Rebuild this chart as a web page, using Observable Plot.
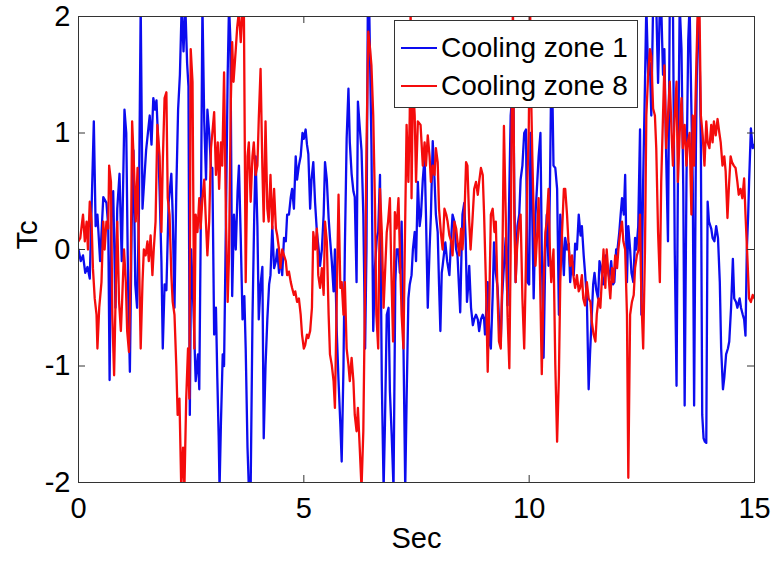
<!DOCTYPE html>
<html><head><meta charset="utf-8">
<script src="https://cdn.jsdelivr.net/npm/d3@7"></script>
<script src="https://cdn.jsdelivr.net/npm/@observablehq/plot@0.6"></script>
<style>
body{margin:0;background:#fff;}
#wrap{position:relative;width:772px;height:561px;}
#legend{position:absolute;left:394px;top:20px;width:242px;height:86px;border:1px solid #333;background:#fff;font-family:'Liberation Sans',Arial,sans-serif;font-size:28px;}
.row{position:absolute;left:0;height:34px;display:flex;align-items:center;}
.sw{width:36px;height:2px;margin-left:6px;margin-right:4px;}
</style></head><body>
<div id="wrap"></div>
<script>
const xTicks = [0, 5, 10, 15];
const yTicks = [-2, -1, 0, 1, 2];
const seriesNames = ["Cooling zone 1", "Cooling zone 8"];
const seriesColors = ["#0c0cef", "#f40c0c"];
const xLabel = "Sec";
const yLabel = "Tc";

const zone1 = [[0,0],[0.05,-0.1],[0.1,-0.05],[0.15,-0.2],[0.2,-0.15],[0.25,-0.25],[0.3,0.5],[0.34,1.1],[0.38,0.2],[0.42,0.3],[0.48,-0.1],[0.55,0.45],[0.62,0.4],[0.66,0.2],[0.69,-1.12],[0.73,0.3],[0.77,0.5],[0.82,-0.5],[0.86,0.35],[0.91,0.65],[0.96,-0.1],[1.02,1.2],[1.06,1.0],[1.1,-0.3],[1.14,-1.05],[1.18,0.2],[1.22,0.85],[1.26,-0.3],[1.3,-0.5],[1.34,0.3],[1.38,2.1],[1.42,0.35],[1.46,0.6],[1.5,0.85],[1.54,1.0],[1.58,1.15],[1.62,0.9],[1.66,1.3],[1.7,1.2],[1.73,1.28],[1.76,1.0],[1.8,0.5],[1.84,-0.1],[1.87,-0.85],[1.91,-0.3],[1.95,-0.35],[2.0,0.4],[2.06,0.65],[2.09,0.3],[2.13,-0.5],[2.17,0.5],[2.21,1.2],[2.25,1.5],[2.29,2.1],[2.33,1.7],[2.37,2.1],[2.41,1.6],[2.44,1.4],[2.47,-1.42],[2.5,0],[2.55,-0.5],[2.6,-1.13],[2.65,-0.9],[2.68,-1.2],[2.72,0.5],[2.75,2.1],[2.79,1.1],[2.83,0.6],[2.86,1.2],[2.9,1.0],[2.94,0.7],[2.97,0.7],[3.01,-0.73],[3.05,-0.5],[3.08,-1.1],[3.11,-1.6],[3.13,-2.05],[3.16,-1.5],[3.2,-0.9],[3.23,-1.0],[3.27,0.2],[3.31,1.5],[3.34,2.1],[3.37,1.8],[3.41,-0.4],[3.45,0.3],[3.49,0],[3.53,0.5],[3.56,0.72],[3.6,0.1],[3.64,-0.6],[3.68,-0.4],[3.71,-0.85],[3.75,-1.7],[3.78,-2.05],[3.82,-2.05],[3.86,-0.6],[3.9,0.3],[3.93,0.8],[3.97,0.2],[4.0,-0.6],[4.04,-0.3],[4.08,-0.15],[4.11,-1.62],[4.15,-1.0],[4.19,-0.6],[4.23,-0.3],[4.26,-0.22],[4.3,0.2],[4.34,-0.16],[4.38,-0.1],[4.41,0],[4.45,-0.2],[4.49,-0.05],[4.52,-0.22],[4.56,0.1],[4.6,0.07],[4.63,0.3],[4.67,0.3],[4.71,0.45],[4.74,0.52],[4.78,0.35],[4.82,0.8],[4.85,0.6],[4.89,0.72],[4.93,0.8],[4.97,1.0],[5.0,0.95],[5.04,1.03],[5.07,0.9],[5.1,0.82],[5.14,0.35],[5.17,0.6],[5.21,0.75],[5.25,0.4],[5.29,0.15],[5.33,0],[5.36,-0.14],[5.4,0],[5.44,0.3],[5.47,0.75],[5.51,0.6],[5.55,0.27],[5.58,0.1],[5.62,-0.1],[5.66,-0.36],[5.69,0],[5.73,-0.7],[5.77,-1.13],[5.81,-1.5],[5.84,-1.82],[5.88,-1.0],[5.91,0],[5.95,0.95],[5.99,1.38],[6.02,0.92],[6.06,0.65],[6.1,0.5],[6.13,0.45],[6.17,-0.28],[6.2,1.27],[6.24,1.05],[6.28,0.85],[6.32,0.3],[6.36,-0.85],[6.39,0],[6.42,2.1],[6.45,2.1],[6.5,0.9],[6.54,-0.7],[6.58,-0.14],[6.62,0.1],[6.65,0.15],[6.69,0.64],[6.73,-1.13],[6.77,-2.05],[6.8,-1.5],[6.84,-0.56],[6.88,-0.5],[6.91,-1.22],[6.95,-1.6],[6.99,-2.05],[7.03,-0.28],[7.06,0],[7.1,0],[7.13,-0.2],[7.17,0.24],[7.21,-0.8],[7.25,-2.05],[7.28,-1.3],[7.32,-0.42],[7.35,-0.3],[7.39,-0.22],[7.42,0],[7.46,0.15],[7.49,-0.1],[7.53,0.58],[7.57,0.2],[7.6,0.3],[7.64,0.6],[7.68,0.8],[7.71,0.3],[7.75,-0.5],[7.79,0],[7.82,0.3],[7.86,0.93],[7.9,0.6],[7.93,0.3],[7.97,0.15],[8.0,-0.3],[8.03,-0.7],[8.06,-0.2],[8.08,-0.14],[8.12,0],[8.14,0.06],[8.18,-0.1],[8.23,-0.22],[8.27,0.1],[8.3,0.3],[8.34,0.24],[8.38,0],[8.41,-0.05],[8.44,-0.3],[8.47,-0.54],[8.5,0],[8.52,0.3],[8.56,0.4],[8.59,0.1],[8.62,-0.45],[8.65,-0.3],[8.67,-0.14],[8.71,-0.5],[8.75,-0.65],[8.78,-0.6],[8.82,-0.56],[8.86,-0.6],[8.89,-0.7],[8.93,-0.6],[8.97,-0.56],[9.0,-0.6],[9.02,-0.73],[9.05,-0.5],[9.08,-0.28],[9.12,-0.8],[9.15,-0.85],[9.19,-0.4],[9.22,0.06],[9.26,-0.2],[9.3,-0.33],[9.33,-0.6],[9.37,-0.79],[9.4,-0.4],[9.44,-0.14],[9.48,0.1],[9.52,-0.48],[9.55,0.3],[9.59,1.15],[9.62,1.3],[9.64,1.8],[9.67,0.5],[9.7,-0.28],[9.74,0.2],[9.78,0.3],[9.81,0.6],[9.85,0.72],[9.89,1.0],[9.93,1.03],[9.96,-0.28],[10.0,-0.3],[10.03,1.0],[10.06,0.5],[10.1,-0.42],[10.14,0.3],[10.18,0.58],[10.21,0.8],[10.25,1.0],[10.28,0],[10.32,-0.93],[10.36,0],[10.39,0.3],[10.43,-0.14],[10.46,0.5],[10.49,1.5],[10.52,1.22],[10.54,0.72],[10.58,0.7],[10.62,0.52],[10.66,-0.56],[10.69,0.3],[10.73,0.1],[10.77,-0.22],[10.8,0.1],[10.84,0],[10.88,0.05],[10.91,-0.28],[10.95,-0.1],[10.99,-0.22],[11.02,0.05],[11.06,0],[11.1,0.3],[11.14,0.12],[11.17,0.2],[11.21,-0.05],[11.24,-0.2],[11.28,-0.42],[11.32,-1.2],[11.35,-0.9],[11.39,-0.56],[11.42,-0.3],[11.45,-0.2],[11.49,-0.35],[11.53,-0.42],[11.56,-0.1],[11.6,-0.16],[11.64,-0.3],[11.67,-0.28],[11.7,-0.05],[11.74,-0.16],[11.78,-0.25],[11.82,-0.1],[11.86,-0.3],[11.89,-0.28],[11.93,0],[11.96,0],[12.0,0.15],[12.03,0.3],[12.06,0.44],[12.1,0.3],[12.13,0.64],[12.17,-0.28],[12.2,0.2],[12.24,0],[12.27,-0.2],[12.31,-0.28],[12.35,0.1],[12.38,0],[12.42,0.2],[12.46,1.03],[12.49,-0.56],[12.53,0.6],[12.57,1.43],[12.6,2.1],[12.64,1.5],[12.68,1.6],[12.71,1.15],[12.75,2.1],[12.79,2.1],[12.82,2.1],[12.86,1.43],[12.9,2.1],[12.93,2.1],[12.97,1.5],[13.0,1.72],[13.04,0.8],[13.08,0.07],[13.12,2.1],[13.16,2.1],[13.19,2.1],[13.23,0],[13.27,-1.17],[13.3,0.58],[13.34,2.1],[13.38,1.72],[13.42,0.5],[13.45,-1.34],[13.49,0.58],[13.53,1.8],[13.56,2.1],[13.6,1.2],[13.63,0.58],[13.66,-1.34],[13.7,0.87],[13.73,1.8],[13.76,2.1],[13.79,1.5],[13.81,0.87],[13.84,-1.42],[13.87,-1.62],[13.9,-1.65],[13.93,-1.66],[13.96,0.41],[13.99,0.24],[14.04,0.18],[14.07,0.1],[14.11,0.07],[14.15,0.2],[14.19,0.1],[14.23,-0.28],[14.26,-0.85],[14.3,-1.2],[14.33,-1.1],[14.37,-0.9],[14.41,-0.85],[14.44,-0.79],[14.48,-0.5],[14.52,-0.08],[14.55,-0.42],[14.59,-0.45],[14.62,-0.5],[14.67,-0.42],[14.7,-0.5],[14.74,-0.56],[14.77,-0.6],[14.8,-0.74],[14.83,0],[14.86,0.3],[14.88,0.58],[14.92,1.04],[14.96,0.87],[15.0,0.9]];

const zone8 = [[0,0.07],[0.04,0.1],[0.07,0.2],[0.1,0.3],[0.14,0.07],[0.18,0.24],[0.21,0],[0.25,0.41],[0.29,0.24],[0.32,-0.16],[0.36,-0.42],[0.4,-0.56],[0.42,-0.85],[0.46,-0.5],[0.51,-0.28],[0.55,0.24],[0.58,0],[0.62,0.24],[0.66,0.18],[0.68,0.72],[0.72,0.58],[0.75,-0.56],[0.79,-1.08],[0.83,-0.28],[0.86,0.24],[0.9,-0.45],[0.94,-0.7],[0.97,-0.42],[1.01,0],[1.05,-0.28],[1.08,-0.7],[1.12,-0.88],[1.16,-0.14],[1.19,1.1],[1.23,0.72],[1.27,0.24],[1.31,0.7],[1.34,0],[1.38,-0.85],[1.42,-0.28],[1.45,0],[1.49,-0.05],[1.53,0.07],[1.56,-0.1],[1.6,0.12],[1.64,-0.22],[1.67,0],[1.71,0.24],[1.75,1.07],[1.8,0.8],[1.84,0.15],[1.87,0.75],[1.91,1.3],[1.95,1.35],[1.98,0.44],[2.02,0.3],[2.06,-0.22],[2.09,-0.45],[2.13,-0.56],[2.17,-1.0],[2.2,-1.42],[2.24,-1.28],[2.28,-2.05],[2.32,-1.7],[2.35,-2.05],[2.39,-1.28],[2.43,-0.85],[2.46,-1.28],[2.49,1.72],[2.53,1.44],[2.57,-0.85],[2.6,0.3],[2.64,0.15],[2.68,0.44],[2.71,0.18],[2.75,0.44],[2.79,0.6],[2.82,0.3],[2.86,-0.05],[2.9,0.24],[2.94,0.87],[2.97,1.0],[3.01,1.18],[3.05,0.64],[3.09,0.92],[3.12,0.52],[3.16,0.92],[3.19,0.72],[3.23,1.52],[3.27,0.3],[3.31,-0.45],[3.34,-0.05],[3.38,1.27],[3.41,1.78],[3.44,1.44],[3.49,1.72],[3.52,1.9],[3.56,2.05],[3.6,1.78],[3.64,2.05],[3.67,2.05],[3.71,-0.28],[3.75,0.8],[3.78,0.92],[3.82,0.41],[3.86,0.8],[3.89,0.92],[3.93,0.64],[3.97,0.72],[4.0,1.12],[4.04,1.55],[4.08,0.7],[4.11,0.24],[4.15,1.1],[4.19,0.35],[4.22,0.24],[4.26,0.64],[4.3,0.18],[4.34,0.52],[4.38,0.18],[4.41,0.12],[4.45,0],[4.48,-0.16],[4.52,0],[4.56,-0.05],[4.6,-0.1],[4.63,-0.22],[4.67,-0.19],[4.71,-0.28],[4.74,-0.33],[4.78,-0.39],[4.81,-0.36],[4.85,-0.45],[4.89,-0.42],[4.93,-0.56],[4.96,-0.73],[5.0,-0.85],[5.03,-0.82],[5.07,-0.73],[5.1,-0.76],[5.14,-0.7],[5.18,-0.5],[5.21,0.15],[5.25,0],[5.29,0.18],[5.32,-0.22],[5.36,-0.33],[5.4,-0.16],[5.44,-0.39],[5.47,0.24],[5.51,0.07],[5.55,-0.56],[5.58,-0.9],[5.62,-0.99],[5.66,-1.13],[5.69,-1.36],[5.73,-0.42],[5.77,0.47],[5.81,-0.33],[5.84,-0.28],[5.88,-0.56],[5.91,-0.28],[5.95,-0.85],[5.99,-0.99],[6.02,-1.13],[6.06,-0.93],[6.1,-1.13],[6.13,-1.42],[6.17,-1.56],[6.2,-1.36],[6.24,-1.7],[6.28,-2.05],[6.32,-1.56],[6.36,-0.28],[6.39,0.87],[6.43,1.87],[6.47,1.72],[6.5,1.58],[6.54,1.15],[6.58,0.35],[6.61,-0.56],[6.65,-0.85],[6.69,0.52],[6.73,0.15],[6.77,-0.5],[6.8,-0.22],[6.84,0.15],[6.87,0.24],[6.91,0.44],[6.94,-0.16],[6.98,-0.79],[7.02,0.32],[7.06,0.18],[7.1,0.44],[7.13,0],[7.17,-0.56],[7.21,-0.85],[7.24,0],[7.28,1.07],[7.32,0.58],[7.35,1.15],[7.37,2.1],[7.39,0.44],[7.42,1.44],[7.46,1.15],[7.49,0.58],[7.53,1.1],[7.59,1.07],[7.64,0.72],[7.68,0.92],[7.71,0.72],[7.75,0.98],[7.79,0.8],[7.82,0.58],[7.86,0.72],[7.9,0.64],[7.93,0.87],[7.97,0.75],[8.0,0.35],[8.04,0.15],[8.08,0],[8.12,0.35],[8.16,0.3],[8.19,0.24],[8.23,0.12],[8.27,0.07],[8.3,-0.05],[8.34,0.24],[8.38,0.18],[8.41,0.07],[8.45,-0.05],[8.49,0.18],[8.52,0],[8.56,0.24],[8.6,0.75],[8.63,0.72],[8.67,0.24],[8.7,0],[8.74,0.24],[8.78,0.52],[8.82,0.58],[8.86,0.47],[8.89,0.58],[8.93,0.7],[8.97,0.64],[9.0,0.3],[9.04,-0.28],[9.08,-1.05],[9.11,-0.56],[9.15,0.3],[9.19,0.35],[9.23,0.15],[9.26,0.24],[9.3,-0.42],[9.33,-0.79],[9.37,-0.85],[9.4,-0.28],[9.44,1.06],[9.48,0.3],[9.52,-0.56],[9.56,-1.02],[9.59,0],[9.62,1.5],[9.64,2.1],[9.67,0.3],[9.7,-0.28],[9.73,0],[9.77,0.2],[9.81,0.3],[9.85,-0.42],[9.89,-0.85],[9.92,-0.28],[9.96,0.58],[9.99,1.0],[10.02,2.1],[10.05,1.2],[10.07,0.8],[10.1,0.3],[10.14,-0.14],[10.18,0.15],[10.21,0.44],[10.25,-0.42],[10.28,-1.07],[10.32,-0.28],[10.36,0.15],[10.39,0.24],[10.43,0.52],[10.46,0],[10.49,-0.28],[10.54,0],[10.58,-0.99],[10.62,-1.65],[10.66,-1.08],[10.69,-0.28],[10.73,0.15],[10.77,0.52],[10.8,0.52],[10.84,0.3],[10.88,0],[10.91,-0.14],[10.95,-0.05],[10.98,-0.22],[11.02,-0.33],[11.06,-0.22],[11.1,-0.36],[11.13,-0.33],[11.17,-0.22],[11.2,-0.42],[11.24,-0.48],[11.28,-0.28],[11.32,-0.42],[11.36,-0.45],[11.39,-0.62],[11.43,-0.73],[11.47,-0.79],[11.5,-0.56],[11.54,-0.42],[11.58,-0.5],[11.61,-0.28],[11.65,0],[11.69,-0.33],[11.72,0],[11.76,-0.22],[11.8,-0.42],[11.84,-0.16],[11.87,-0.28],[11.91,-0.05],[11.95,-0.16],[11.98,0],[12.02,0.15],[12.06,0.24],[12.09,0.07],[12.13,0],[12.17,-0.56],[12.2,-1.96],[12.24,-0.56],[12.28,-0.45],[12.32,-0.39],[12.35,-0.16],[12.39,-0.05],[12.43,0],[12.46,0.3],[12.49,-0.42],[12.53,-0.85],[12.57,0],[12.6,1.15],[12.64,1.5],[12.68,1.72],[12.71,1.66],[12.75,1.21],[12.79,1.15],[12.82,0.87],[12.86,0.15],[12.9,-0.28],[12.93,0.58],[12.97,1.15],[13.0,1.58],[13.04,0.87],[13.08,1.15],[13.12,1.44],[13.16,1.0],[13.19,0.72],[13.23,1.15],[13.27,1.44],[13.3,0.58],[13.34,1.0],[13.38,1.3],[13.41,0.87],[13.45,1.07],[13.49,0.72],[13.52,0.92],[13.56,1.0],[13.6,0.3],[13.63,1.15],[13.66,0.72],[13.7,1.44],[13.74,2.05],[13.78,2.05],[13.81,1.15],[13.85,0.98],[13.89,0.72],[13.93,1.1],[13.96,0.92],[14.0,0.87],[14.04,1.07],[14.07,0.92],[14.1,1.1],[14.14,0.98],[14.18,1.12],[14.22,1.0],[14.25,0.92],[14.29,0.72],[14.33,0.8],[14.36,0.67],[14.4,0.27],[14.43,0.52],[14.47,0.8],[14.5,0.75],[14.54,0.72],[14.58,0.7],[14.62,0.58],[14.65,0.47],[14.69,0.52],[14.73,0.44],[14.77,0.61],[14.8,0.3],[14.84,-0.05],[14.88,-0.42],[14.92,-0.45],[14.96,-0.39],[15.0,-0.42]];

const series = [zone1, zone8];
const fmt = d => String(d);
const chart = Plot.plot({
  width: 772, height: 561,
  marginLeft: 78, marginRight: 18, marginTop: 16, marginBottom: 79,
  x: {domain: [0, 15]},
  y: {domain: [-2, 2]},
  style: {fontFamily: "'Liberation Sans', Arial, sans-serif", fontSize: "28px", background: "#fff", color: "#000"},
  marks: [
    ...series.map((s, i) => Plot.line(s, {x: d => d[0], y: d => d[1], stroke: seriesColors[i], strokeWidth: 2.3, clip: true})),
    Plot.frame({stroke: "#333", strokeWidth: 1}),
    Plot.tickX(xTicks, {x: d => d, insetTop: 459, stroke: "#333"}),
    Plot.tickX(xTicks, {x: d => d, insetBottom: 459, stroke: "#333"}),
    Plot.tickY(yTicks, {y: d => d, insetRight: 669, stroke: "#333"}),
    Plot.tickY(yTicks, {y: d => d, insetLeft: 669, stroke: "#333"}),
    Plot.axisX(xTicks, {tickSize: 0, tickPadding: 15, tickFormat: fmt, label: null, fontSize: 29}),
    Plot.axisY(yTicks, {tickSize: 0, tickPadding: 8, tickFormat: fmt, label: null, fontSize: 29}),
    Plot.text([xLabel], {frameAnchor: "bottom", dy: 65, fontSize: 29, text: d => d}),
    Plot.text([yLabel], {frameAnchor: "left", dx: -51, rotate: -90, fontSize: 29, text: d => d})
  ]
});
const wrap = document.getElementById("wrap");
wrap.appendChild(chart);
const leg = document.createElement("div");
leg.id = "legend";
seriesNames.forEach((name, i) => {
  const row = document.createElement("div");
  row.className = "row";
  row.style.top = (10 + i * 38) + "px";
  const sw = document.createElement("div");
  sw.className = "sw";
  sw.style.background = seriesColors[i];
  const tx = document.createElement("span");
  tx.textContent = name;
  row.appendChild(sw); row.appendChild(tx);
  leg.appendChild(row);
});
wrap.appendChild(leg);
</script>
</body></html>
